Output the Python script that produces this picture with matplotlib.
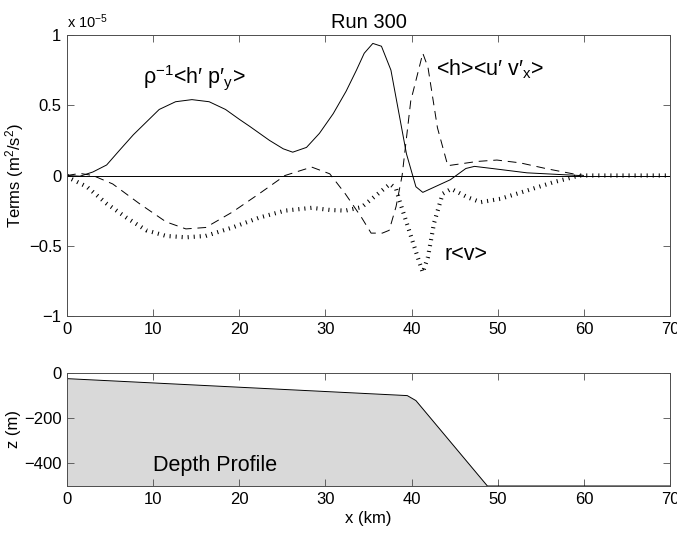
import matplotlib.pyplot as plt
import numpy as np

plt.rcParams['font.family'] = ['Liberation Sans', 'DejaVu Sans']
plt.rcParams['mathtext.fontset'] = 'custom'
plt.rcParams['mathtext.rm'] = 'Liberation Sans'
plt.rcParams['mathtext.it'] = 'Liberation Sans'

# termos em unidades de 1e-5 m^2/s^2
x_pres = [0, 1.5, 3.0, 4.6, 6.1, 7.7, 9.2, 10.7, 12.6, 14.5, 16.5, 18.4, 20.0,
          21.2, 23.5, 25.1, 26.2, 27.8, 29.3, 30.9, 32.4, 33.6, 34.5, 35.5, 36.5,
          37.6, 39.4, 40.5, 41.3, 44.5, 46.3, 47.3, 49.6, 53.4, 57.2, 59.5]
y_pres = [0, -0.005, 0.025, 0.075, 0.18, 0.29, 0.38, 0.47, 0.525, 0.54, 0.525,
          0.47, 0.40, 0.35, 0.25, 0.19, 0.166, 0.20, 0.30, 0.44, 0.60, 0.75, 0.87,
          0.94, 0.92, 0.75, 0.155, -0.08, -0.12, -0.03, 0.05, 0.065, 0.048, 0.019,
          0.007, 0.0]

x_rey = [0, 1.5, 3.0, 5.3, 8.4, 11.5, 13.8, 16.1, 19.2, 22.3, 25.3, 28.4, 30.5,
         32.3, 34.2, 35.3, 36.6, 37.4, 38.2, 38.9, 39.9, 41.3, 41.9, 43.0, 44.2,
         45.7, 47.6, 49.9, 52.6, 55.7, 58.9, 60]
y_rey = [0, 0.015, 0.0, -0.06, -0.2, -0.33, -0.38, -0.37, -0.26, -0.13, 0.0, 0.06,
         0.012, -0.13, -0.30, -0.41, -0.41, -0.39, -0.22, 0.0, 0.53, 0.87, 0.77,
         0.34, 0.07, 0.083, 0.10, 0.11, 0.09, 0.048, 0.01, 0.0]

x_fric = [0, 0.35, 2.3, 4.6, 6.9, 9.2, 11.5, 13.8, 16.1, 19.2, 22.3, 25.3, 28.4,
          30.5, 32.3, 34.2, 36.1, 37.5, 38.2, 38.6, 39.6, 40.7, 41.3, 41.9, 42.6,
          43.6, 44.6, 46.5, 48, 50.3, 53.4, 56.5, 59.5, 65, 70]
y_fric = [0, -0.02, -0.08, -0.2, -0.3, -0.39, -0.43, -0.44, -0.43, -0.37, -0.3,
          -0.25, -0.23, -0.245, -0.25, -0.225, -0.13, -0.06, -0.095, -0.18, -0.37,
          -0.58, -0.69, -0.58, -0.34, -0.13, -0.095, -0.155, -0.19, -0.166, -0.107,
          -0.047, 0.0, 0.0, 0.0]

# perfil de profundidade
x_prof = [0, 39.5, 40.5, 48.8, 70]
z_prof = [-25, -100, -122, -500, -500]

fig = plt.figure(figsize=(6.77, 5.35), dpi=100)
ax1 = fig.add_axes([0.099, 0.4093, 0.8907, 0.5253])
ax2 = fig.add_axes([0.099, 0.0916, 0.8907, 0.2112])

ax1.axhline(0, color='k', lw=0.7)
ax1.plot(x_pres, y_pres, 'k-', lw=0.7)
ax1.plot(x_rey, y_rey, color='k', lw=0.7, dashes=(9, 6))
ax1.plot(x_fric, y_fric, color='k', lw=3, dashes=(0.25, 1.2))

ax1.set_xlim(0, 70)
ax1.set_ylim(-1, 1)
ax1.set_xticks(np.arange(0, 71, 10))
ax1.set_yticks([-1, -0.5, 0, 0.5, 1])
ax1.set_yticklabels(['\u22121', '\u22120.5', '0', '0.5', '1'])
ax1.set_ylabel('Terms (m$^2$/s$^2$)', fontsize=12, labelpad=2)
ax1.set_title('Run 300', fontsize=14.5, pad=5)
ax1.text(0.0, 1.015, 'x 10$^{-5}$', transform=ax1.transAxes, fontsize=10.5, va='bottom')

ax1.text(8.8, 0.70, '\u03c1$^{-1}$<h\u2032 p\u2032$_y$>', fontsize=15.5, va='center')
ax1.text(42.8, 0.76, '<h><u\u2032 v\u2032$_x$>', fontsize=15.5, va='center')
ax1.text(43.8, -0.56, 'r<v>', fontsize=15.5, va='center')

ax2.fill_between(x_prof, z_prof, -500, color='0.85', lw=0)
ax2.plot(x_prof, z_prof, 'k-', lw=0.7)
ax2.set_xlim(0, 70)
ax2.set_ylim(-500, 0)
ax2.set_xticks(np.arange(0, 71, 10))
ax2.set_yticks([-400, -200, 0])
ax2.set_yticklabels(['\u2212400', '\u2212200', '0'])
ax2.set_xlabel('x (km)', fontsize=12, labelpad=3)
ax2.set_ylabel('z (m)', fontsize=12, labelpad=2)
ax2.text(10, -410, 'Depth Profile', fontsize=15.5, va='center')

for ax in (ax1, ax2):
    for s in ax.spines.values():
        s.set_color('0.3')
        s.set_linewidth(0.7)
    ax.tick_params(direction='in', length=5, width=0.6, color='0.3',
                   top=True, right=True, labelsize=12, pad=4)

fig.savefig('out.png', dpi=100)
